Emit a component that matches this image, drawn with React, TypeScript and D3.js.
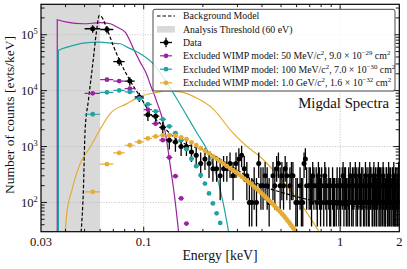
import React from 'react';
import * as d3 from 'd3';

// ---------- axes ----------
const xDomain = [0.03, 2];
const yDomain = [30, 3.5e5];
const xTickLabelValues = [0.03, 0.1, 1, 2];
const xTickLabels = ['0.03', '0.1', '1', '2'];
const xGridValues = [0.1, 1];
const yTickPowers = [2, 3, 4, 5];
const thresholdRange = [0.03, 0.06];

// ---------- data (10 eV bins starting at 50 eV) ----------
const dataFirstCenter = 0.055;
const binWidth = 0.01;
const countsPerKeVPerCount = 100;
const dataCounts = [
  1280, 1240, 330, 148, 77, 37, 35, 22, 13, 12, 10, 10, 8, 7, 5,
  6, 5, 4, 4, 3, 4, 4, 5, 3, 5,
  6, 7, 4, 3, 1, 1, 2, 1, 5, 2,
  2, 3, 2, 1, 0, 3, 2, 4, 5, 2,
  3, 2, 4, 3, 0, 2, 3, 3, 0, 1,
  1, 0, 2, 1, 1, 5, 6, 2, 0, 2,
  2, 1, 3, 2, 0, 2, 1, 3, 2, 1,
  2, 0, 1, 3, 2, 1, 0, 2, 1, 1,
  0, 2, 1, 1, 0, 1, 2, 0, 1, 2,
  1, 0, 2, 3, 1, 2, 2, 1, 0, 1,
  2, 1, 3, 0, 1, 2, 1, 2, 0, 3,
  1, 2, 1, 0, 2, 3, 1, 1, 2, 0,
  2, 1, 0, 1, 3, 2, 1, 0, 2, 1,
  1, 3, 2, 2, 0, 1, 1, 2, 3, 1,
  0, 2, 1, 1, 2, 0, 3, 1, 2, 1,
  2, 1, 0, 2, 1, 3, 2, 1, 0, 1,
  1, 2, 2, 0, 1, 1, 3, 2, 1, 0,
  2, 1, 0, 1, 2, 2, 1, 3, 0, 1,
  1, 2, 1, 0, 2, 1, 1, 2, 3, 1,
];
// Feldman-Cousins 68% intervals for small counts
const fcLow = [0, 0.37, 0.74, 1.1, 2.34, 2.75, 3.82, 4.25, 5.3, 6.33, 6.78];
const fcHigh = [1.29, 2.75, 4.25, 5.3, 6.78, 7.81, 9.28, 10.3, 11.32, 12.79, 13.81];

// ---------- background model ----------
const bgEnergy = [0.048, 0.0493, 0.0503, 0.0523, 0.0553, 0.0573, 0.0594, 0.0611, 0.065, 0.0699, 0.076, 0.0871, 0.0961, 0.11, 0.1216, 0.1422, 0.2106, 0.311, 0.394, 0.4986, 0.709, 1.0, 2.0];
const bgRate = [29.5, 166, 1955, 6700, 34800, 105000, 221000, 208000, 128000, 64400, 32400, 13300, 7700, 3620, 2570, 1480, 801, 351, 204, 153, 110, 89.5, 79];

// ---------- WIMP model spectra (lines) ----------
const m50LineEnergy = [0.0363, 0.0406, 0.0493, 0.06, 0.0675, 0.0731, 0.0806, 0.0906, 0.0961, 0.104, 0.108, 0.117, 0.1264, 0.132, 0.1368, 0.1433, 0.1508];
const m50LineRate = [185000, 168000, 157000, 164000, 157000, 137000, 110000, 48000, 32000, 18800, 12900, 6100, 2500, 1050, 432, 135, 28];
const m100LineEnergy = [0.0368, 0.0383, 0.0439, 0.0493, 0.06, 0.0675, 0.076, 0.0822, 0.0925, 0.1124, 0.129, 0.1422, 0.163, 0.1873, 0.2106, 0.2369, 0.2551, 0.2715];
const m100LineRate = [52500, 56000, 64400, 70800, 73800, 70800, 69000, 60000, 49300, 29500, 15300, 8800, 3940, 1710, 859, 272, 89.5, 28];
const m1000LineEnergy = [0.0398, 0.0406, 0.0431, 0.0475, 0.0534, 0.06, 0.0675, 0.0822, 0.0961, 0.117, 0.129, 0.1538, 0.1873, 0.2267, 0.277, 0.33, 0.394, 0.561, 0.669, 0.789];
const m1000LineRate = [28, 63.7, 166, 497, 984, 2040, 3880, 5860, 7900, 9330, 9900, 9500, 7280, 4630, 1950, 1055, 644, 159, 70, 28];

// ---------- WIMP model binned spectra (points, same 10 eV bins) ----------
const m50PointRate = [8950, 15700, 14800, 10900, 7300, 4580, 2570, 1300, 637, 295, 118, 42];
const m100PointRate = [3780, 9330, 10100, 9500, 7200, 5700, 4270, 3070, 2300, 1730, 1300, 896, 605, 445, 307, 218, 145, 96, 64, 43];
const m1000PointRate = [
  155, 483, 769, 1055, 1208, 1400, 1520, 1580, 1580, 1560,
  1460, 1350, 1190, 1055, 933, 840, 760, 670, 605, 545,
  493, 445, 410, 377, 347, 314, 289, 266, 245, 226,
  208, 192, 176, 162, 149, 138, 127, 117, 108, 100,
  92.5, 86, 79, 73.5, 68.5, 63, 58.6, 54, 49.3, 45.5,
  41.8, 38.5, 35.5, 32.7, 30,
];

const PURPLE = '#9b22a0';
const TEAL = '#1fa3a3';
const GOLD = '#e4ac36';
const FONT = "'Liberation Serif', 'DejaVu Serif', serif";

const W = 407;
const H = 269;
const L = 41, R = 399.3, T = 4.3, B = 231.7;

const x = d3.scaleLog().domain(xDomain).range([L, R]);
const y = d3.scaleLog().domain(yDomain).range([B, T]);

const smooth = d3
  .line<[number, number]>()
  .x((d) => x(d[0]))
  .y((d) => y(d[1]))
  .curve(d3.curveMonotoneX);

function zip(a: number[], b: number[]): [number, number][] {
  return a.map((v, i) => [v, b[i]]);
}

function risingPath(es: number[], rs: number[]) {
  const p = smooth(zip(es, rs)) || '';
  return `M${x(es[0])},${y(yDomain[0] * 0.5)}L` + p.slice(1);
}

function SupText(props: { x: number; y: number; parts: [string, boolean][]; fs: number; ss: number; anchor?: string; fill?: string }) {
  const { parts, fs, ss } = props;
  let raised = false;
  const rise = fs * 0.4;
  return (
    <text x={props.x} y={props.y} fontSize={fs} textAnchor={props.anchor || 'start'} fill={props.fill || '#111'} fontFamily={FONT}>
      {parts.map(([t, sup], i) => {
        let dy: number | undefined;
        if (sup && !raised) { dy = -rise; raised = true; }
        else if (!sup && raised) { dy = rise; raised = false; }
        return (
          <tspan key={i} dy={dy} fontSize={sup ? ss : fs}>{t}</tspan>
        );
      })}
    </text>
  );
}

function ModelPoints({ rates, color }: { rates: number[]; color: string }) {
  return (
    <g>
      {rates.map((r, i) => {
        const e = dataFirstCenter + i * binWidth;
        const cx = x(e);
        const cy = y(r);
        return (
          <g key={i}>
            <line x1={x(e - binWidth / 2)} x2={x(e + binWidth / 2)} y1={cy} y2={cy} stroke={color} strokeWidth={1.2} />
            <circle cx={cx} cy={cy} r={2.4} fill={color} />
          </g>
        );
      })}
    </g>
  );
}

function DataPoints() {
  return (
    <g>
      {dataCounts.map((n, i) => {
        if (n <= 0) return null;
        const e = dataFirstCenter + i * binWidth;
        let lo: number, hi: number;
        if (n <= 10) {
          lo = fcLow[n];
          hi = fcHigh[n];
        } else {
          const err = Math.sqrt(n + (0.15 * n) ** 2);
          lo = n - err;
          hi = n + err;
        }
        const k = countsPerKeVPerCount;
        const cx = x(e);
        const cy = y(n * k);
        const yLo = Math.min(y(Math.max(lo * k, 1)), B + 5);
        const yHi = y(hi * k);
        return (
          <g key={i}>
            <line x1={cx} x2={cx} y1={yLo} y2={yHi} stroke="#000" strokeWidth={1.3} />
            <line x1={x(e - binWidth / 2)} x2={x(e + binWidth / 2)} y1={cy} y2={cy} stroke="#000" strokeWidth={1.3} />
            <circle cx={cx} cy={cy} r={2.5} fill="#000" />
          </g>
        );
      })}
    </g>
  );
}

function Ticks() {
  const els: React.ReactNode[] = [];
  const major = 5;
  const minor = 2.8;
  const xMinor: number[] = [];
  for (let p = -2; p <= 0; p++) {
    for (let m = 1; m <= 9; m++) {
      const v = m * Math.pow(10, p);
      if (v > xDomain[0] * 1.0001 && v < xDomain[1] * 0.9999) xMinor.push(v);
    }
  }
  xMinor.forEach((v, i) => {
    const isMajor = Math.abs(Math.log10(v) - Math.round(Math.log10(v))) < 1e-9;
    const len = isMajor ? major : minor;
    const px = x(v);
    els.push(<line key={'xb' + i} x1={px} x2={px} y1={B} y2={B - len} stroke="#000" strokeWidth={0.9} />);
    els.push(<line key={'xt' + i} x1={px} x2={px} y1={T} y2={T + len} stroke="#000" strokeWidth={0.9} />);
  });
  const yAll: number[] = [];
  for (let p = 1; p <= 5; p++) {
    for (let m = 1; m <= 9; m++) {
      const v = m * Math.pow(10, p);
      if (v > yDomain[0] * 1.0001 && v < yDomain[1] * 0.9999) yAll.push(v);
    }
  }
  yAll.forEach((v, i) => {
    const isMajor = Math.abs(Math.log10(v) - Math.round(Math.log10(v))) < 1e-9;
    const len = isMajor ? major + 1 : minor + 0.8;
    const py = y(v);
    els.push(<line key={'yl' + i} x1={L} x2={L + len} y1={py} y2={py} stroke="#000" strokeWidth={0.9} />);
    els.push(<line key={'yr' + i} x1={R} x2={R - len} y1={py} y2={py} stroke="#000" strokeWidth={0.9} />);
  });
  return <g>{els}</g>;
}

const legendRows = [
  { kind: 'bg', parts: [['Background Model', false]] },
  { kind: 'thr', parts: [['Analysis Threshold (60 eV)', false]] },
  { kind: 'data', parts: [['Data', false]] },
  { kind: PURPLE, parts: [['Excluded WIMP model: 50 MeV/c', false], ['2', true], [', 9.0 \u00d7 10', false], ['\u221229', true], [' cm', false], ['2', true]] },
  { kind: TEAL, parts: [['Excluded WIMP model: 100 MeV/c', false], ['2', true], [', 7.0 \u00d7 10', false], ['\u221230', true], [' cm', false], ['2', true]] },
  { kind: GOLD, parts: [['Excluded WIMP model: 1.0 GeV/c', false], ['2', true], [', 1.6 \u00d7 10', false], ['\u221232', true], [' cm', false], ['2', true]] },
];

function Legend() {
  const bx = 153, by = 9.3, bw = 242, bh = 81.7;
  const hx0 = 157, hx1 = 175, hc = 166;
  const rowY = [16, 29.3, 42.5, 55.8, 69.2, 82.8];
  return (
    <g>
      <rect x={bx} y={by} width={bw} height={bh} rx={2} fill="#fff" fillOpacity={0.82} stroke="#333" strokeWidth={0.9} />
      {legendRows.map((row, i) => {
        const cy = rowY[i];
        let handle: React.ReactNode;
        if (row.kind === 'bg') {
          handle = <line x1={hx0} x2={hx1} y1={cy} y2={cy} stroke="#000" strokeWidth={1.2} strokeDasharray="3.5,2" />;
        } else if (row.kind === 'thr') {
          handle = <rect x={hx0} y={cy - 3.3} width={hx1 - hx0} height={6.6} fill="#d9d9d9" />;
        } else if (row.kind === 'data') {
          handle = (
            <g>
              <line x1={hx0 + 3} x2={hx1 - 3} y1={cy} y2={cy} stroke="#000" strokeWidth={1.3} />
              <line x1={hc} x2={hc} y1={cy - 4.7} y2={cy + 4.7} stroke="#000" strokeWidth={1.3} />
              <circle cx={hc} cy={cy} r={2.5} fill="#000" />
            </g>
          );
        } else {
          handle = (
            <g>
              <line x1={hx0 + 3} x2={hx1 - 3} y1={cy} y2={cy} stroke={row.kind} strokeWidth={1.2} />
              <circle cx={hc} cy={cy} r={2.4} fill={row.kind} />
            </g>
          );
        }
        return (
          <g key={i}>
            {handle}
            <SupText x={183} y={cy + 3.3} parts={row.parts as [string, boolean][]} fs={9.85} ss={6.8} />
          </g>
        );
      })}
    </g>
  );
}

export default function App() {
  const clipId = 'plot-clip';
  return (
    <svg width={W} height={H} viewBox={`0 0 ${W} ${H}`} style={{ position: 'absolute', left: 0, top: 0, background: '#fff' }} fontFamily={FONT}>
      <defs>
        <clipPath id={clipId}>
          <rect x={L} y={T} width={R - L} height={B - T} />
        </clipPath>
      </defs>
      <rect x={0} y={0} width={W} height={H} fill="#fff" />
      <rect x={x(thresholdRange[0])} y={T} width={x(thresholdRange[1]) - x(thresholdRange[0])} height={B - T} fill="#d9d9d9" />
      <g stroke="#b5b5b5" strokeWidth={0.8} strokeDasharray="1,1.6">
        {xGridValues.map((v) => (
          <line key={'gx' + v} x1={x(v)} x2={x(v)} y1={T} y2={B} />
        ))}
        {yTickPowers.map((p) => (
          <line key={'gy' + p} x1={L} x2={R} y1={y(Math.pow(10, p))} y2={y(Math.pow(10, p))} />
        ))}
      </g>
      <g clipPath={`url(#${clipId})`}>
        <path d={risingPath(m50LineEnergy, m50LineRate)} fill="none" stroke={PURPLE} strokeWidth={1.2} />
        <path d={risingPath(m100LineEnergy, m100LineRate)} fill="none" stroke={TEAL} strokeWidth={1.2} />
        <path d={smooth(zip(m1000LineEnergy, m1000LineRate)) || ''} fill="none" stroke={GOLD} strokeWidth={1.2} />
        <path d={smooth(zip(bgEnergy, bgRate)) || ''} fill="none" stroke="#000" strokeWidth={1.2} strokeDasharray="3.5,2" />
        <DataPoints />
        <ModelPoints rates={m50PointRate} color={PURPLE} />
        <ModelPoints rates={m100PointRate} color={TEAL} />
        <ModelPoints rates={m1000PointRate} color={GOLD} />
      </g>
      <rect x={L} y={T} width={R - L} height={B - T} fill="none" stroke="#000" strokeWidth={1.2} />
      <Ticks />
      {xTickLabelValues.map((v, i) => (
        <text key={'xl' + i} x={x(v)} y={245.5} fontSize={12.6} textAnchor="middle" fill="#111">{xTickLabels[i]}</text>
      ))}
      {yTickPowers.map((p) => (
        <SupText key={'yl' + p} x={37.8} y={y(Math.pow(10, p)) + 4.3} parts={[['10', false], [String(p), true]]} fs={12.6} ss={8.4} anchor="end" />
      ))}
      <text x={220} y={259.5} fontSize={13.8} textAnchor="middle" fill="#111">Energy [keV]</text>
      <text transform={`translate(14,115) rotate(-90)`} fontSize={13.5} textAnchor="middle" fill="#111">Number of counts [evts/keV]</text>
      <Legend />
      <text x={389} y={107.5} fontSize={14.8} textAnchor="end" fill="#111">Migdal Spectra</text>
    </svg>
  );
}
